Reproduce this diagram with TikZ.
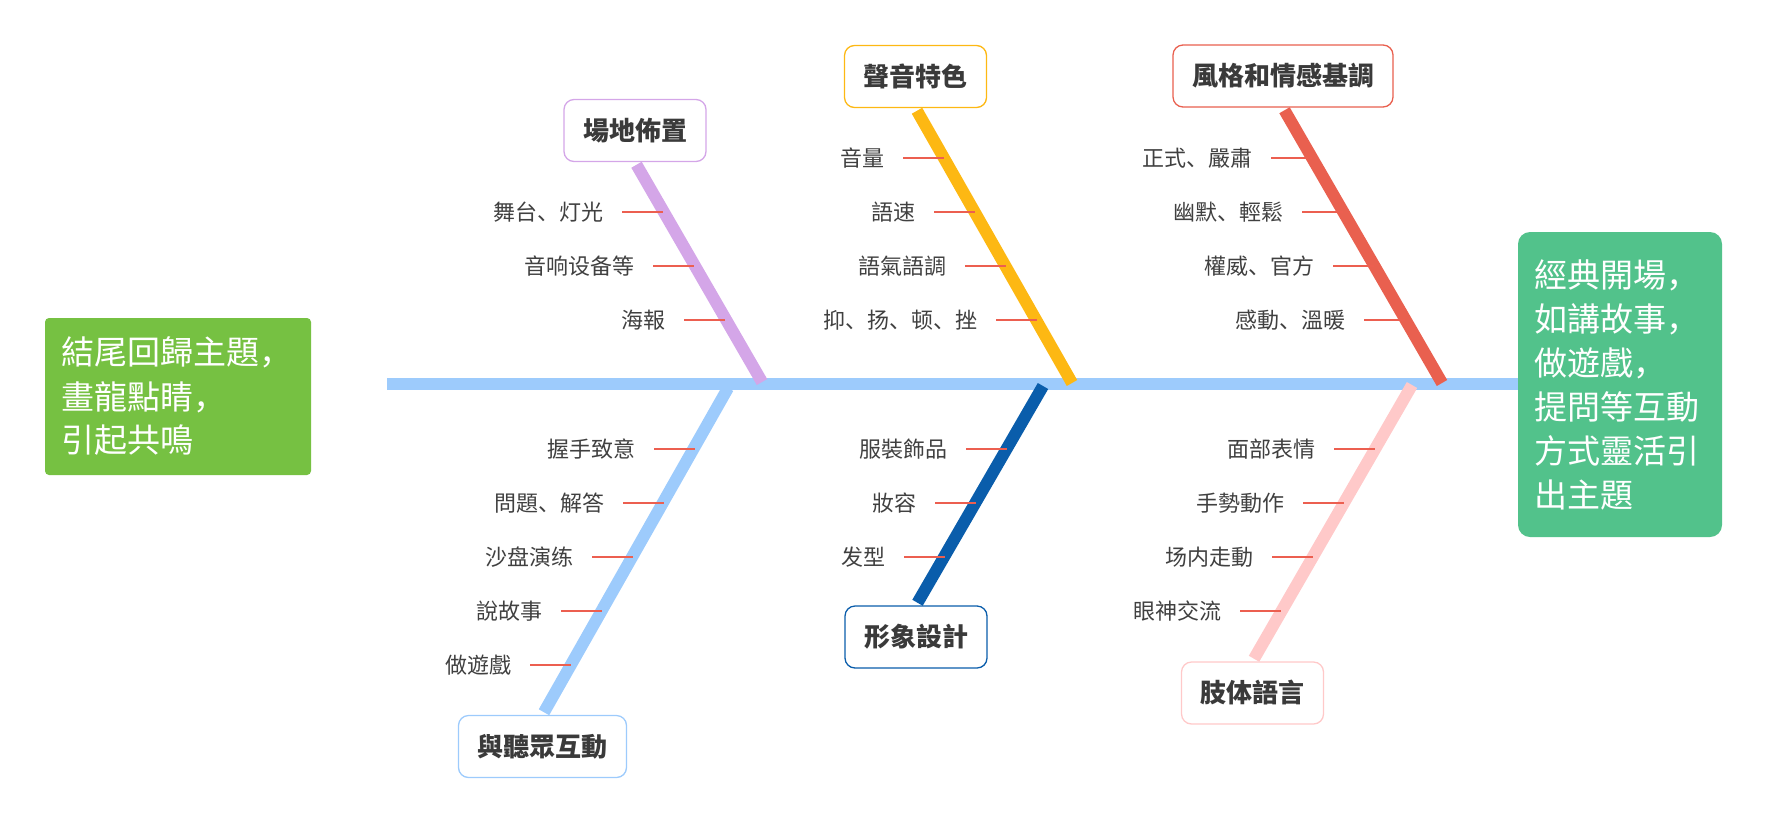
\documentclass[tikz,border=0pt]{standalone}
\usepackage{fontspec}
\setmainfont{Noto Sans CJK SC}
\definecolor{spine}{HTML}{9DCBFC}
\definecolor{cpurple}{HTML}{D4A6E8}
\definecolor{cyellow}{HTML}{FDB813}
\definecolor{cred}{HTML}{E9604F}
\definecolor{cdblue}{HTML}{0A5DAB}
\definecolor{cpink}{HTML}{FFC9C9}
\definecolor{cgreenL}{HTML}{76C142}
\definecolor{cgreenR}{HTML}{52C28B}
\definecolor{tickred}{HTML}{EC5F50}
\definecolor{labgray}{HTML}{404040}
\definecolor{titlegray}{HTML}{3A3A3A}
\begin{document}
\begin{tikzpicture}[x=1pt,y=-1pt,
  bone/.style={line width=12pt},
  tick/.style={draw=tickred,line width=1.3pt},
  lab/.style={anchor=east,inner sep=0pt,text=labgray,font=\fontsize{22}{26}\selectfont},
  cat/.style={draw=#1,line width=1.3pt,fill=white,rounded corners=10pt,minimum height=62pt,inner xsep=19pt,inner ysep=0pt,font=\fontsize{26}{30}\selectfont\bfseries,text=titlegray},
  endbox/.style={fill=#1,text=white,align=left,inner xsep=16pt,inner ysep=0pt,font=\fontsize{33}{44}\selectfont},
]
\useasboundingbox (0,0) rectangle (1769,839);

% head and tail boxes
\node[endbox=cgreenL,rounded corners=4pt,text width=234pt,minimum height=157pt] (lbox) at (178,396.5)
  {結尾回歸主題，\\畫龍點睛，\\引起共鳴};
\node[endbox=cgreenR,rounded corners=12pt,text width=172pt,minimum height=305pt] (rbox) at (1620,384.5)
  {經典開場，\\如講故事，\\做遊戲，\\提問等互動\\方式靈活引\\出主題};

% spine
\coordinate (sp0) at (387,384);
\draw[bone,draw=spine] (sp0) -- (rbox.west |- sp0);

% spine points of bones
\coordinate (jp) at (762,382);
\coordinate (jy) at (1072,383);
\coordinate (jr) at (1442,383);
\coordinate (jl) at (728,388);
\coordinate (jd) at (1043,386);
\coordinate (jk) at (1412,385);

% category boxes
\node[cat=cpurple] (bp) at (635,130.5) {場地佈置};
\node[cat=cyellow] (by) at (915.5,76.5) {聲音特色};
\node[cat=cred] (br) at (1283,76) {風格和情感基調};
\node[cat=spine] (bl) at (542.5,746.5) {與聽眾互動};
\node[cat=cdblue] (bd) at (916,637) {形象設計};
\node[cat=cpink] (bk) at (1252.5,693) {肢体語言};

% bones
\draw[bone,draw=cpurple,shorten <=3pt] (bp.south) -- (jp);
\draw[bone,draw=cyellow,shorten <=3pt] (by.south) -- (jy);
\draw[bone,draw=cred,shorten <=3pt] (br.south) -- (jr);
\draw[bone,draw=spine,shorten <=3pt] (bl.north) -- (jl);
\draw[bone,draw=cdblue,shorten <=3pt] (bd.north) -- (jd);
\draw[bone,draw=cpink,shorten <=3pt] (bk.north) -- (jk);

% sub-items
\foreach \n/\x/\y/\t in {
  p1/622/212/舞台、灯光, p2/653/266/音响设备等, p3/684/320/海報,
  y1/903/158/音量, y2/934/212/語速, y3/965/266/語氣語調, y4/996/320/抑、扬、顿、挫,
  r1/1271/158/正式、嚴肅, r2/1302/212/幽默、輕鬆, r3/1333/266/權威、官方, r4/1364/320/感動、溫暖,
  l1/654/449/握手致意, l2/623/503/問題、解答, l3/592/557/沙盘演练, l4/561/611/說故事, l5/530/665/做遊戲,
  d1/966/449/服裝飾品, d2/935/503/妝容, d3/904/557/发型,
  k1/1334/449/面部表情, k2/1303/503/手勢動作, k3/1272/557/场内走動, k4/1240/611/眼神交流}
{
  \node[lab] (\n) at (\x-18,\y) {\t};
  \draw[tick] ([xshift=18pt]\n.east) -- ++(41,0);
}
\end{tikzpicture}
\end{document}
